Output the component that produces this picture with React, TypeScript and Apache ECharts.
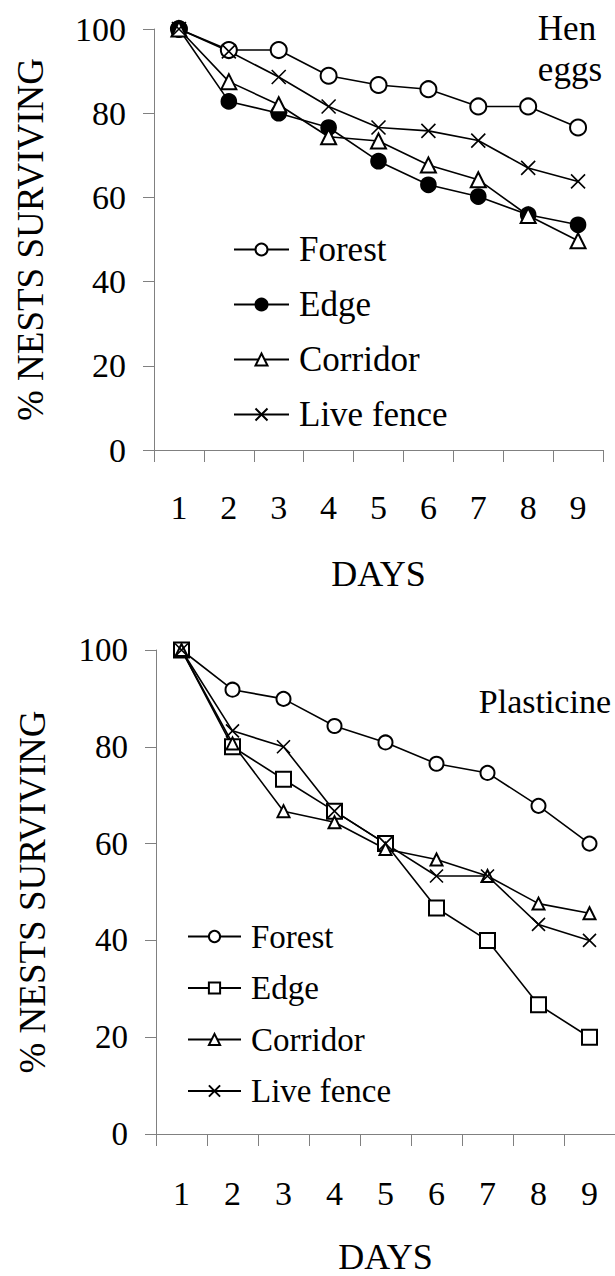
import React, { useEffect, useRef } from 'react';
import * as echarts from 'echarts';

const days = ['1', '2', '3', '4', '5', '6', '7', '8', '9'];
const legendNames = ['Forest', 'Edge', 'Corridor', 'Live fence'];

// Hen eggs (top)
const henForest = [100, 95, 95, 88.9, 86.7, 85.7, 81.6, 81.6, 76.6];
const henEdge = [100, 82.8, 80.0, 76.6, 68.6, 63.0, 60.2, 55.9, 53.5];
const henCorridor = [100, 87.5, 82.0, 74.4, 73.4, 67.7, 64.2, 55.7, 49.7];
const henLiveFence = [100, 94.7, 88.6, 81.6, 76.6, 75.8, 73.5, 67.0, 63.8];

// Plasticine (bottom)
const plaForest = [100, 91.8, 89.9, 84.3, 80.9, 76.5, 74.6, 67.8, 60];
const plaEdge = [100, 80, 73.3, 66.7, 60, 46.7, 40, 26.7, 20];
const plaCorridor = [100, 80.7, 66.7, 64.4, 58.9, 56.7, 53.3, 47.6, 45.6];
const plaLiveFence = [100, 83.3, 80, 66.7, 60, 53.3, 53.3, 43.3, 40];

const FONT = "'Liberation Serif'";
const GRAY = '#808080';
const CROSS = 'path://M0 0L10 10M10 0L0 10';

function makeXAxis(gridIndex: number, fontSize: number, margin: number, nameGap: number, nameLH: number) {
  return {
    type: 'category',
    gridIndex,
    data: days,
    boundaryGap: true,
    axisLine: { show: true, lineStyle: { color: GRAY, width: 1 } },
    axisTick: { show: true, length: 12, interval: 0, lineStyle: { color: GRAY, width: 1 } },
    axisLabel: { interval: 0, color: '#000', fontSize, fontFamily: FONT, lineHeight: fontSize, margin },
    splitLine: { show: false },
    name: 'DAYS',
    nameLocation: 'middle',
    nameGap,
    nameTextStyle: { color: '#000', fontSize: 36, fontFamily: FONT, lineHeight: nameLH },
  };
}

function makeYAxis(gridIndex: number, fontSize: number) {
  return {
    type: 'value',
    gridIndex,
    min: 0,
    max: 100,
    interval: 20,
    axisLine: { show: true, lineStyle: { color: GRAY, width: 1 } },
    axisTick: { show: true, length: 11, lineStyle: { color: GRAY, width: 1 } },
    axisLabel: { color: '#000', fontSize, fontFamily: FONT, margin: 28 },
    splitLine: { show: false },
    name: '% NESTS SURVIVING',
    nameLocation: 'middle',
    nameGap: 105,
    nameTextStyle: { color: '#000', fontSize: 37, fontFamily: FONT, lineHeight: 37 },
  };
}

function makeSeries(name: string, idx: number, data: number[], symbol: string, symbolSize: number) {
  return {
    name,
    type: 'line',
    xAxisIndex: idx,
    yAxisIndex: idx,
    data,
    symbol,
    symbolSize,
    clip: false,
    showAllSymbol: true,
    lineStyle: { color: '#000', width: 1.6 },
    itemStyle: { color: '#000', borderColor: '#000', borderWidth: 1.6 },
    emphasis: { disabled: true },
  };
}

export default function App() {
  const ref = useRef<HTMLDivElement>(null);
  useEffect(() => {
    document.body.style.margin = '0';
    const chart = echarts.init(ref.current as HTMLDivElement, null, { renderer: 'svg' });
    const option = {
      animation: false,
      backgroundColor: '#fff',
      title: [
        {
          text: 'Hen\neggs',
          right: 13,
          top: 8,
          padding: 0,
          textStyle: { fontSize: 35, fontWeight: 'normal', fontFamily: FONT, color: '#000', lineHeight: 41 },
        },
        {
          text: 'Plasticine',
          right: 4,
          top: 684,
          padding: 0,
          textStyle: { fontSize: 34, fontWeight: 'normal', fontFamily: FONT, color: '#000', lineHeight: 34 },
        },
      ],
      legend: [
        {
          data: legendNames,
          orient: 'vertical',
          left: 233,
          top: 232,
          padding: 0,
          itemWidth: 55,
          itemHeight: 15,
          itemGap: 20,
          selectedMode: false,
          textStyle: { fontSize: 35, fontFamily: FONT, color: '#000', lineHeight: 35, padding: [0, 0, 0, 5] },
        },
        {
          data: legendNames.map((n) => 'Plasticine ' + n),
          formatter: (n: string) => n.replace('Plasticine ', ''),
          orient: 'vertical',
          left: 187,
          top: 920,
          padding: 0,
          itemWidth: 53,
          itemHeight: 14,
          itemGap: 18.5,
          selectedMode: false,
          textStyle: { fontSize: 33, fontFamily: FONT, color: '#000', lineHeight: 33, padding: [0, 0, 0, 5] },
        },
      ],
      grid: [
        { left: 154, top: 29, width: 449, height: 421 },
        { left: 156, top: 650, width: 463.5, height: 489 },
      ],
      xAxis: [makeXAxis(0, 34, 40, 106, 36), makeXAxis(1, 34, 42, 110, 26)],
      yAxis: [makeYAxis(0, 34), makeYAxis(1, 33)],
      series: [
        makeSeries('Forest', 0, henForest, 'emptyCircle', 16),
        makeSeries('Edge', 0, henEdge, 'circle', 15),
        makeSeries('Corridor', 0, henCorridor, 'emptyTriangle', 15),
        makeSeries('Live fence', 0, henLiveFence, CROSS, 14),
        makeSeries('Plasticine Forest', 1, plaForest, 'emptyCircle', 14),
        makeSeries('Plasticine Edge', 1, plaEdge, 'emptyRect', 15),
        makeSeries('Plasticine Corridor', 1, plaCorridor, 'emptyTriangle', 12),
        makeSeries('Plasticine Live fence', 1, plaLiveFence, CROSS, 13),
      ],
    };
    chart.setOption(option as any);
    return () => chart.dispose();
  }, []);
  return <div ref={ref} style={{ width: 615, height: 1276 }} />;
}
